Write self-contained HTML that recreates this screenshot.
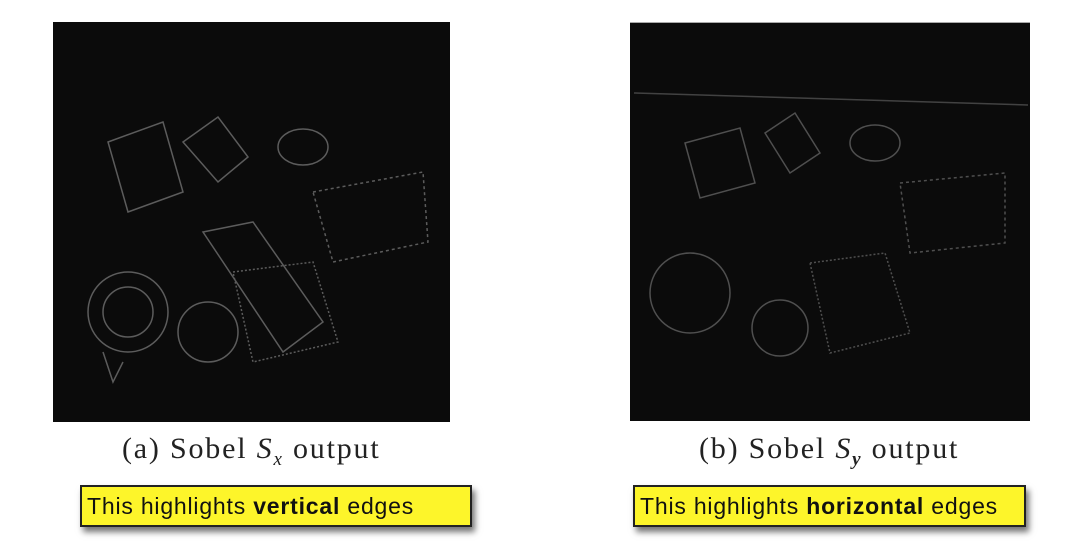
<!DOCTYPE html>
<html><head><meta charset="utf-8"><style>
body{margin:0;width:1077px;height:560px;background:#fff;position:relative;overflow:hidden}
.img{position:absolute;background:#0b0b0b}
.cap{position:absolute;font-family:"Liberation Serif",serif;font-size:30px;letter-spacing:1.8px;color:#222;white-space:nowrap}
.note{position:absolute;background:#fdf52a;border:2px solid #222;box-shadow:3px 5px 6px rgba(0,0,0,.55);font-family:"Liberation Sans",sans-serif;font-size:23px;letter-spacing:0.8px;color:#111;line-height:38px;padding-left:5px;box-sizing:border-box;white-space:nowrap}
svg{position:absolute;left:0;top:0}
</style></head><body>
<div class="img" style="left:53px;top:22px;width:397px;height:400px">
<svg width="397" height="400" stroke="#777" stroke-width="1.5" fill="none" opacity="0.75">
<path d="M55 120 L110 100 L130 170 L75 190 Z"/><path d="M130 120 L165 95 L195 135 L165 160 Z"/>
<ellipse cx="250" cy="125" rx="25" ry="18"/><path d="M260 170 L370 150 L375 220 L280 240 Z" stroke-dasharray="3 3"/>
<path d="M150 210 L200 200 L270 300 L230 330 Z"/><circle cx="75" cy="290" r="40"/><circle cx="75" cy="290" r="25"/>
<circle cx="155" cy="310" r="30"/><path d="M180 250 L260 240 L285 320 L200 340 Z" stroke-dasharray="2 2"/>
<path d="M50 330 L60 360 L70 340"/>
</svg></div>
<div class="img" style="left:630px;top:22px;width:400px;height:398px;border-top:1px solid #aaa">
<svg width="400" height="398" stroke="#666" stroke-width="1.5" fill="none" opacity="0.75">
<path d="M4 70 L398 82" stroke="#555"/>
<path d="M55 120 L110 105 L125 160 L70 175 Z"/><path d="M135 110 L165 90 L190 130 L160 150 Z"/>
<ellipse cx="245" cy="120" rx="25" ry="18"/><path d="M270 160 L375 150 L375 220 L280 230 Z" stroke-dasharray="3 3"/>
<circle cx="60" cy="270" r="40"/><circle cx="150" cy="305" r="28"/>
<path d="M180 240 L255 230 L280 310 L200 330 Z" stroke-dasharray="2 2"/>
</svg></div>
<div class="cap" style="left:122px;top:432px">(a) Sobel <i>S<sub style="font-size:19px">x</sub></i> output</div>
<div class="cap" style="left:699px;top:432px">(b) Sobel <i>S<sub style="font-size:19px"><b>y</b></sub></i> output</div>
<div class="note" style="left:80px;top:485px;width:392px;height:42px">This highlights <b>vertical</b> edges</div>
<div class="note" style="left:633px;top:485px;width:393px;height:42px">This highlights <b>horizontal</b> edges</div>
</body></html>
